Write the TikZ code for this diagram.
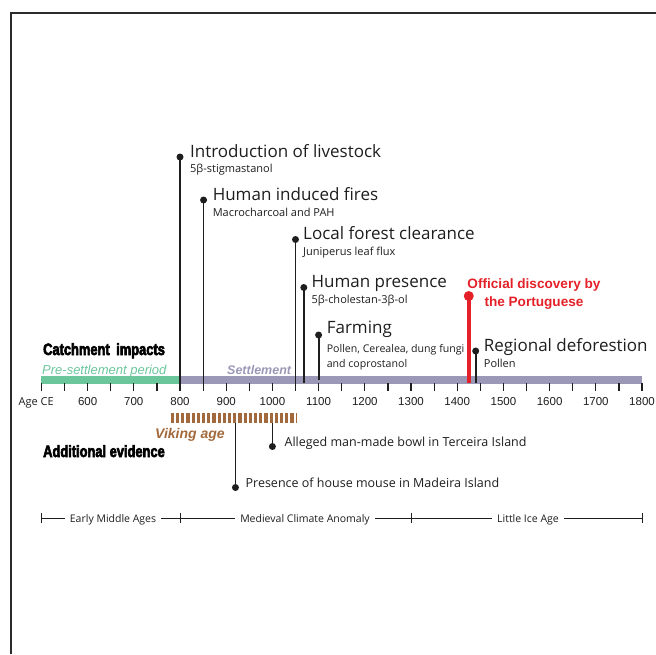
\documentclass[tikz,border=0pt]{standalone}
\usepackage{fontspec}
\setmainfont{Open Sans}
\newfontfamily\arialfont{Liberation Sans}
\newfontfamily\headfont[FakeStretch=0.78,FakeBold=3.5]{Liberation Sans}
\usetikzlibrary{positioning}
\definecolor{preGreen}{HTML}{6CC69C}
\definecolor{settlePurple}{HTML}{9B98B7}
\definecolor{vikingBrown}{HTML}{A2693C}
\definecolor{discoveryRed}{HTML}{E42128}
\definecolor{frameDark}{HTML}{2B2B2B}
\definecolor{textDark}{HTML}{1E1E1E}
% year -> horizontal position
\newcommand{\yr}[1]{180+(#1-800)*0.462}

\tikzset{
  evdot/.style={circle, fill=textDark, inner sep=0pt, minimum size=7pt},
  evline/.style={draw=textDark, line width=1.8pt},
  evtitle/.style={anchor=base west, inner sep=0pt, text=textDark, font=\fontsize{17}{19}\selectfont},
  evnote/.style={anchor=base west, inner sep=0pt, text=textDark, align=left, font=\fontsize{11}{15}\selectfont},
  lowtitle/.style={anchor=base west, inner sep=0pt, text=textDark, font=\fontsize{12.5}{15}\selectfont},
  headlabel/.style={anchor=base west, inner sep=0pt, text=black, font=\headfont\bfseries\fontsize{16.5}{18}\selectfont},
  ticklabel/.style={anchor=base, inner sep=0pt, text=textDark, font=\arialfont\fontsize{11.5}{13}\selectfont},
  perlabel/.style={anchor=base, fill=white, inner xsep=5pt, inner ysep=1pt, text=textDark, font=\fontsize{10.5}{12}\selectfont}
}

\begin{document}
\begin{tikzpicture}[x=1pt, y=-1pt]
  \useasboundingbox (0,0) rectangle (656,654);
  \draw[frameDark, line width=1.3pt] (656,13) -- (11,13) -- (11,654);

  % time bar
  \fill[preGreen] ({\yr{500}},376) rectangle ({\yr{800}},383.5);
  \fill[settlePurple] ({\yr{800}},376) rectangle ({\yr{1800}},383.5);
  \foreach \y in {500,550,...,1800}
    \draw[textDark, line width=1.2pt] ({\yr{\y}},383) -- ({\yr{\y}},391);
  \node[anchor=base east, inner sep=0pt, text=textDark, font=\fontsize{11}{13}\selectfont] (ageLabel) at (54,405) {Age CE};
  \foreach \y in {600,700,...,1800}
    \node[ticklabel] (tick\y) at ({\yr{\y}},405) {\y};

  \node[anchor=base west, inner sep=0pt, text=preGreen, font=\arialfont\itshape\fontsize{13}{15}\selectfont] (preLabel) at (42,374) {Pre-settlement period};
  \node[anchor=base west, inner sep=0pt, text=settlePurple, font=\arialfont\bfseries\itshape\fontsize{12.5}{15}\selectfont] (settleLabel) at (227,374) {Settlement};
  \node[headlabel] (catchmentHead) at (43,355) {Catchment\hspace{3pt} impacts};
  \node[headlabel] (additionalHead) at (43,457) {Additional evidence};

  % catchment impacts
  \coordinate (livestockBase) at ({\yr{800}},383);
  \node[evdot] (livestockDot) at ({\yr{800}},157) {};
  \draw[evline] (livestockBase) -- (livestockDot.center);
  \node[evtitle] (livestockTitle) at ([xshift=10pt]livestockDot.center) {Introduction of livestock};
  \node[evnote] (livestockNote) at ([yshift=-15pt]livestockTitle.base west) {5β-stigmastanol};

  \coordinate (firesBase) at ({\yr{851}},383);
  \node[evdot] (firesDot) at ({\yr{851}},200) {};
  \draw[evline] (firesBase) -- (firesDot.center);
  \node[evtitle] (firesTitle) at ([xshift=9pt]firesDot.center) {Human induced fires};
  \node[evnote] (firesNote) at ([yshift=-16pt]firesTitle.base west) {Macrocharcoal and PAH};

  \coordinate (forestBase) at ({\yr{1050}},383);
  \node[evdot] (forestDot) at ({\yr{1050}},239.5) {};
  \draw[evline] (forestBase) -- (forestDot.center);
  \node[evtitle] (forestTitle) at ([xshift=7.5pt]forestDot.center) {Local forest clearance};
  \node[evnote] (forestNote) at ([yshift=-16pt]forestTitle.base west) {Juniperus leaf flux};

  \coordinate (presenceBase) at ({\yr{1068}},383);
  \node[evdot] (presenceDot) at ({\yr{1068}},287.5) {};
  \draw[evline] (presenceBase) -- (presenceDot.center);
  \node[evtitle] (presenceTitle) at ([xshift=7.5pt]presenceDot.center) {Human presence};
  \node[evnote] (presenceNote) at ([yshift=-16pt]presenceTitle.base west) {5β-cholestan-3β-ol};

  \coordinate (farmingBase) at ({\yr{1100}},380);
  \node[evdot] (farmingDot) at ({\yr{1100}},335) {};
  \draw[evline] (farmingBase) -- (farmingDot.center);
  \node[evtitle] (farmingTitle) at ([xshift=8pt,yshift=2pt]farmingDot.center) {Farming};
  \node[evnote, font=\fontsize{10.6}{15}\selectfont] (farmingNote) at ([yshift=-34pt]farmingTitle.base west) {Pollen, Cerealea, dung fungi\\and coprostanol};

  \coordinate (regionalBase) at ({\yr{1440}},383);
  \node[evdot] (regionalDot) at ({\yr{1440}},351) {};
  \draw[evline] (regionalBase) -- (regionalDot.center);
  \node[evtitle] (regionalTitle) at ([xshift=8pt]regionalDot.center) {Regional deforestion};
  \node[evnote] (regionalNote) at ([yshift=-16pt]regionalTitle.base west) {Pollen};

  % discovery
  \coordinate (discoveryBase) at ({\yr{1425}},383);
  \node[circle, fill=discoveryRed, inner sep=0pt, minimum size=10pt] (discoveryDot) at ({\yr{1425}},296) {};
  \draw[discoveryRed, line width=3.8pt] (discoveryBase) -- (discoveryDot.center);
  \node[anchor=base, inner sep=0pt, align=center, text=discoveryRed, font=\arialfont\bfseries\fontsize{13.6}{18}\selectfont] (discoveryLabel) at (534,306) {Official discovery by\\the Portuguese};

  % additional evidence
  \coordinate (vikingStart) at ({\yr{780}},418);
  \coordinate (vikingEnd) at ({\yr{1051}},418);
  \draw[vikingBrown, line width=10pt, dash pattern=on 3.2pt off 2pt] (vikingStart) -- (vikingEnd);
  \node[anchor=base west, inner sep=0pt, text=vikingBrown, font=\arialfont\bfseries\itshape\fontsize{14}{16}\selectfont] (vikingLabel) at (155,438) {Viking age};

  \coordinate (mouseBase) at ({\yr{920}},423);
  \node[evdot] (mouseDot) at ({\yr{920}},487.5) {};
  \draw[evline] (mouseBase) -- (mouseDot.center);
  \node[lowtitle] (mouseTitle) at ([xshift=10pt]mouseDot.center) {Presence of house mouse in Madeira Island};

  \coordinate (bowlBase) at ({\yr{1000}},423);
  \node[evdot] (bowlDot) at ({\yr{1000}},446.5) {};
  \draw[evline] (bowlBase) -- (bowlDot.center);
  \node[lowtitle] (bowlTitle) at ([xshift=12pt]bowlDot.center) {Alleged man-made bowl in Terceira Island};

  % climate periods
  \coordinate (periodStart) at ({\yr{500}},518);
  \coordinate (periodEnd) at ({\yr{1800}},518);
  \draw[textDark, line width=1pt] (periodStart) -- (periodEnd);
  \foreach \y in {500,800,1300,1800}
    \draw[textDark, line width=1pt] ({\yr{\y}},513) -- ({\yr{\y}},523);
  \node[perlabel] (earlyLabel) at (113,522) {Early Middle Ages};
  \node[perlabel] (medievalLabel) at (305,522) {Medieval Climate Anomaly};
  \node[perlabel] (iceLabel) at (528,522) {Little Ice Age};
\end{tikzpicture}
\end{document}
